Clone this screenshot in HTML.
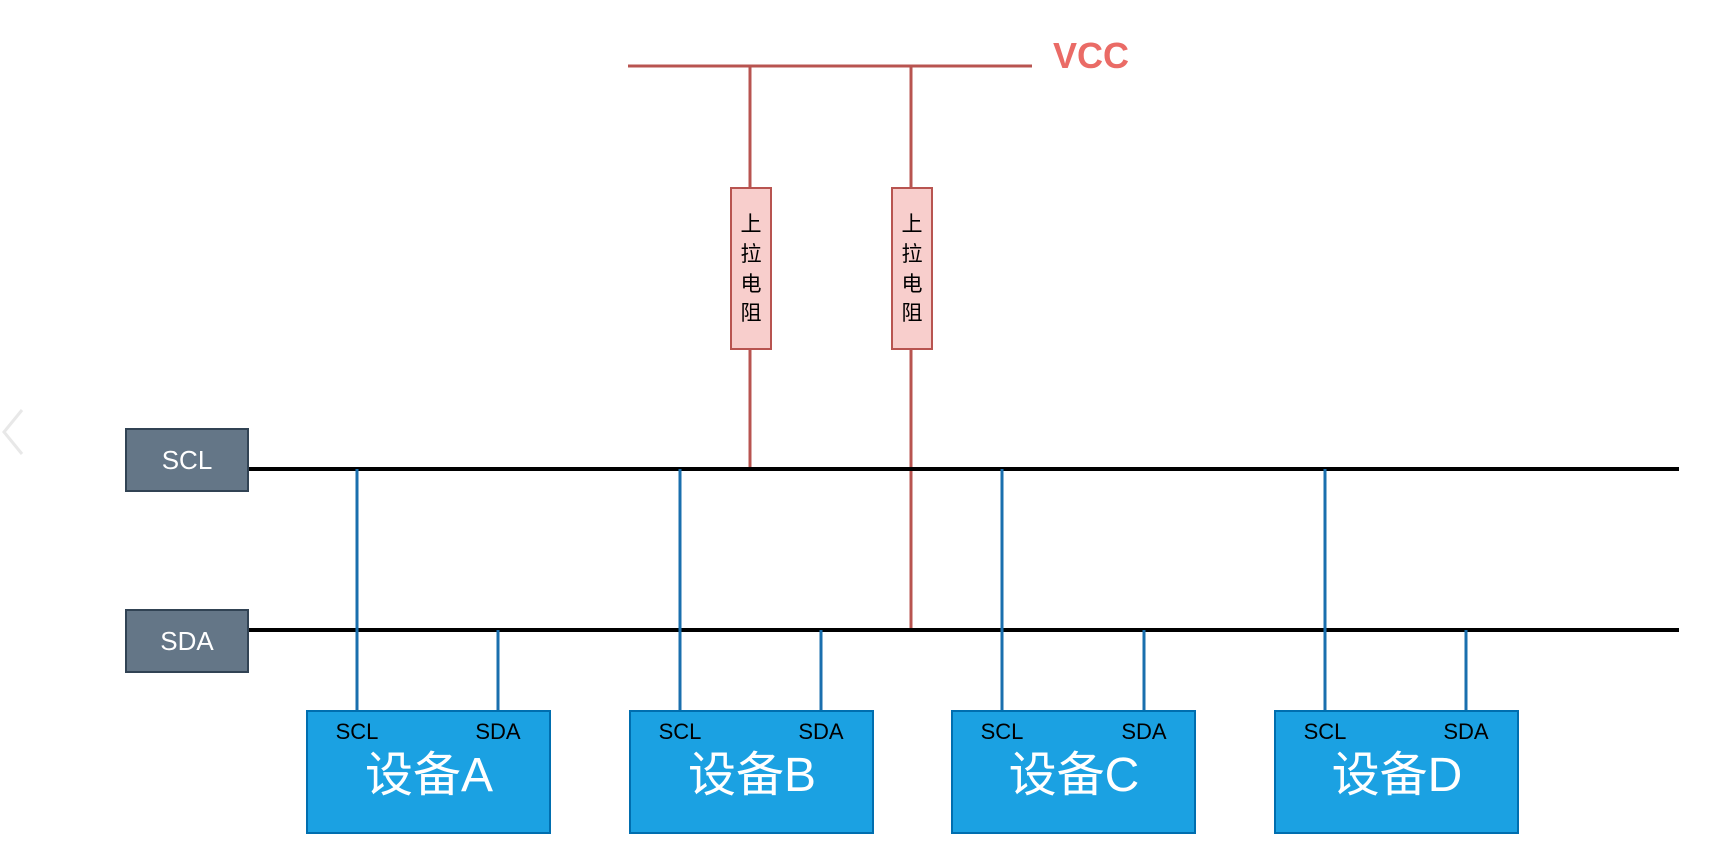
<!DOCTYPE html>
<html><head><meta charset="utf-8"><style>
html,body{margin:0;padding:0;background:#fff;}
svg{display:block}
text{font-family:"Liberation Sans","Noto Sans CJK SC",sans-serif;}
</style></head><body>
<svg width="1730" height="850" viewBox="0 0 1730 850" xmlns="http://www.w3.org/2000/svg">
<path d="M22 410 L4 432 L22 454" fill="none" stroke="#e8e8e8" stroke-width="3"/>
<line x1="628" y1="66" x2="1032" y2="66" stroke="#b85450" stroke-width="3"/>
<text x="1053" y="68" font-size="36" font-weight="bold" fill="#ea6b66">VCC</text>
<line x1="750" y1="66" x2="750" y2="469" stroke="#b85450" stroke-width="3"/>
<line x1="911" y1="66" x2="911" y2="630" stroke="#b85450" stroke-width="3"/>
<rect x="731" y="188" width="40" height="161" fill="#f8cecc" stroke="#b85450" stroke-width="2"/>
<rect x="892" y="188" width="40" height="161" fill="#f8cecc" stroke="#b85450" stroke-width="2"/>
<g font-size="21" fill="#000" text-anchor="middle">
<text x="751" y="231">上</text><text x="751" y="261">拉</text><text x="751" y="291">电</text><text x="751" y="320">阻</text>
<text x="912" y="231">上</text><text x="912" y="261">拉</text><text x="912" y="291">电</text><text x="912" y="320">阻</text>
</g>
<line x1="248" y1="469" x2="1679" y2="469" stroke="#000" stroke-width="4"/>
<line x1="248" y1="630" x2="1679" y2="630" stroke="#000" stroke-width="4"/>
<rect x="126" y="429" width="122" height="62" fill="#647687" stroke="#314354" stroke-width="2"/>
<rect x="126" y="610" width="122" height="62" fill="#647687" stroke="#314354" stroke-width="2"/>
<text x="187" y="469" font-size="26" fill="#fff" text-anchor="middle">SCL</text>
<text x="187" y="650" font-size="26" fill="#fff" text-anchor="middle">SDA</text>
<g stroke="#1a6fae" stroke-width="3">
<line x1="357" y1="469" x2="357" y2="711"/><line x1="498" y1="630" x2="498" y2="711"/>
<line x1="680" y1="469" x2="680" y2="711"/><line x1="821" y1="630" x2="821" y2="711"/>
<line x1="1002" y1="469" x2="1002" y2="711"/><line x1="1144" y1="630" x2="1144" y2="711"/>
<line x1="1325" y1="469" x2="1325" y2="711"/><line x1="1466" y1="630" x2="1466" y2="711"/>
</g>
<g fill="#1ba1e2" stroke="#006eaf" stroke-width="2">
<rect x="307" y="711" width="243" height="122"/>
<rect x="630" y="711" width="243" height="122"/>
<rect x="952" y="711" width="243" height="122"/>
<rect x="1275" y="711" width="243" height="122"/>
</g>
<g font-size="22" fill="#000" text-anchor="middle">
<text x="357" y="739">SCL</text><text x="498" y="739">SDA</text>
<text x="680" y="739">SCL</text><text x="821" y="739">SDA</text>
<text x="1002" y="739">SCL</text><text x="1144" y="739">SDA</text>
<text x="1325" y="739">SCL</text><text x="1466" y="739">SDA</text>
</g>
<g font-size="48" fill="#fff" text-anchor="middle">
<text x="429" y="791">设备A</text>
<text x="752" y="791">设备B</text>
<text x="1074" y="791">设备C</text>
<text x="1397" y="791">设备D</text>
</g>
</svg>
</body></html>
